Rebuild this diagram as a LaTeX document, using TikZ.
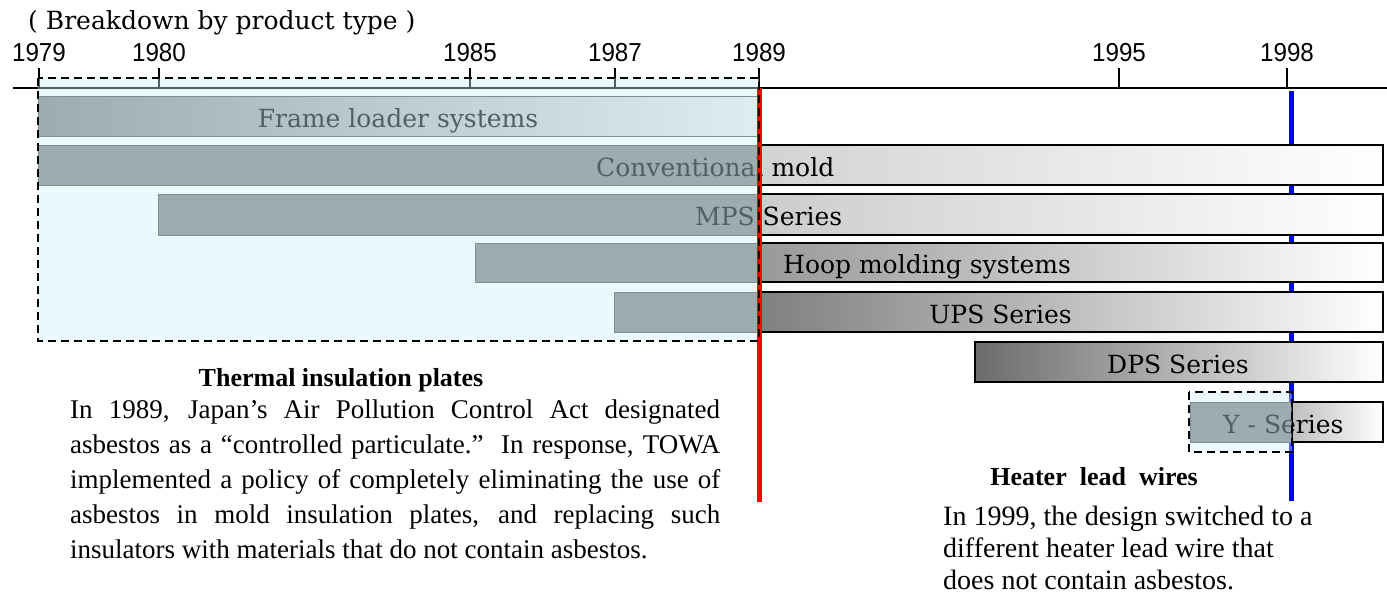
\documentclass[tikz,border=0pt]{standalone}
\usepackage{fontspec}
\setmainfont{Liberation Serif}
\newfontfamily\barfont{DejaVu Serif}
\newfontfamily\yearfont[FakeStretch=0.93]{Liberation Sans}
\begin{document}
\begin{tikzpicture}[x=1pt,y=-1pt,
  graybar/.style={draw=black!70,line width=1pt,fill=gray},
  whitebar/.style={draw=black,line width=1.5pt,left color=#1,right color=white},
  barlabel/.style={inner sep=0pt,font=\fontsize{25}{25}\barfont},
  yearlabel/.style={inner sep=0pt,font=\fontsize{26}{26}\yearfont},
  cyanveil/.style={fill=cyan!20,fill opacity=0.4},
  dashedbox/.style={draw=black,line width=1.3pt,dash pattern=on 8pt off 5pt}]
  \useasboundingbox (0,0) rectangle (1387,594);
  \node[barlabel,anchor=base west] (title) at (28,30) {( Breakdown by product type )};
  \draw[line width=1.5pt] (13,88) -- (1387,88);
  \foreach \x/\yr in {39/1979,159/1980,470/1985,615/1987,759/1989,1119/1995,1287/1998}{
    \draw[line width=1.3pt] (\x,68) -- (\x,88);
    \node[yearlabel,anchor=base] (y\yr) at (\x,62) {\yr};
  }
  \draw[blue,line width=5pt] (1291,91) -- (1291,501);
  \shade[draw=black!70,line width=1pt,left color=gray,middle color=gray!85,right color=gray!15] (38,96) rectangle (759,136);
  \node[barlabel,anchor=base] (frame) at (398,127) {Frame loader systems};
  \fill[graybar] (38,145) rectangle (759,185);
  \shade[whitebar=gray!35] (759,145) rectangle (1383,185);
  \node[barlabel,anchor=base west] (conv) at (596,176) {Conventional mold};
  \fill[graybar] (158,194) rectangle (759,235);
  \shade[whitebar=gray!40] (759,194) rectangle (1383,235);
  \node[barlabel,anchor=base west] (mps) at (695,225) {MPS Series};
  \fill[graybar] (475,243) rectangle (759,282);
  \shade[whitebar=gray!80] (759,243) rectangle (1383,282);
  \node[barlabel,anchor=base west] (hoop) at (783,273) {Hoop molding systems};
  \fill[graybar] (614,292) rectangle (759,332);
  \shade[whitebar=gray] (759,292) rectangle (1383,332);
  \node[barlabel,anchor=base east] (ups) at (1072,323) {UPS Series};
  \shade[whitebar=black!58] (975,342) rectangle (1383,382);
  \node[barlabel,anchor=base west] (dps) at (1107,373) {DPS Series};
  \fill[graybar] (1190,402) rectangle (1292,442);
  \shade[whitebar=gray!50] (1292,402) rectangle (1383,442);
  \node[barlabel,anchor=base west] (yser) at (1223,433) {Y - Series};
  \fill[cyanveil] (38,78) rectangle (759,341);
  \fill[cyanveil] (1189,392) rectangle (1292,452);
  \draw[red,line width=5pt] (759,88) -- (759,502);
  \draw[dashedbox] (38,78) rectangle (759,341);
  \draw[dashedbox] (1189,392) rectangle (1292,452);
  \node[font=\bfseries\fontsize{26}{26}\selectfont] (platestitle) at (341,380) {Thermal insulation plates};
  \node[anchor=north west,inner sep=0pt,text width=650pt,align=justify,font=\fontsize{27}{35}\selectfont] (plates) at (70,400)
    {In 1989, Japan’s Air Pollution Control Act designated\linebreak
     asbestos as a “controlled particulate.”~~In response, TOWA\linebreak
     implemented a policy of completely eliminating the use of\linebreak
     asbestos in mold insulation plates, and replacing such\linebreak
     insulators with materials that do not contain asbestos.};
  \node[font=\bfseries\fontsize{26}{26}\selectfont] (wirestitle) at (1094,477) {Heater~~lead~~wires};
  \node[anchor=north west,inner sep=0pt,align=left,font=\fontsize{28}{32}\selectfont] (wires) at (943,506)
    {In 1999, the design switched to a\\ different heater lead wire that\\ does not contain asbestos.};
\end{tikzpicture}
\end{document}
